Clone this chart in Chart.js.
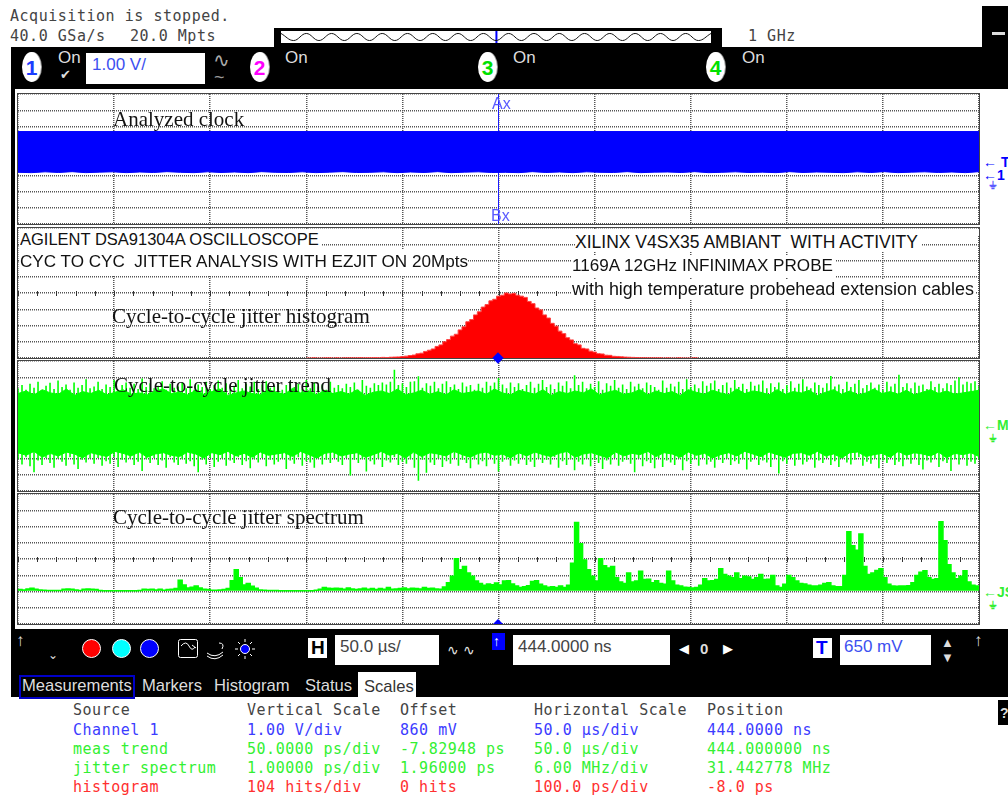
<!DOCTYPE html>
<html>
<head>
<meta charset="utf-8">
<title>DSA91304A jitter</title>
<script src="https://cdn.jsdelivr.net/npm/chart.js@4"></script>
<style>
  html, body { margin: 0; padding: 0; background: #fff; width: 1008px; height: 798px; overflow: hidden; }
  .abs { position: absolute; white-space: pre; }
  .blk { position: absolute; background: #000; }
  .box { position: absolute; background: #fff; }
  .mono { position: absolute; white-space: pre; font: 15px "DejaVu Sans Mono", monospace; letter-spacing: .53px; line-height: 18px; color: #444; }
  .ui { position: absolute; white-space: pre; font: 17px "Liberation Sans", sans-serif; line-height: 20px; color: #ddd; }
  .serif { position: absolute; white-space: pre; font: 21px "Liberation Serif", serif; line-height: 22px; color: #111; z-index: 5; }
  .note { position: absolute; white-space: pre; font: 17.5px "Liberation Sans", sans-serif; line-height: 20px; color: #111; background: #fff; z-index: 5; }
  .panel { position: absolute; left: 18px; width: 961px; height: 130px; box-shadow: 0 0 0 1px #444; }
  .panel canvas { position: absolute; left: 0; top: 0; }
  .chan { position: absolute; width: 19px; height: 30px; border-radius: 50%; background: #fff; box-shadow: 1px 0 0 #999; text-align: center; font: bold 21px/31px "Liberation Sans", sans-serif; }
  .dot { position: absolute; width: 17px; height: 17px; border-radius: 50%; border: 1px solid #fff; }
  .mark { position: absolute; white-space: pre; font: bold 14px "Liberation Sans", sans-serif; line-height: 14px; }
  .lbl { position: absolute; white-space: pre; font: 16px "Liberation Sans", sans-serif; color: #5a5aff; z-index: 6; }
</style>
</head>
<body>

<!-- top status -->
<div class="mono" style="left:10px;top:7px">Acquisition is stopped.</div>
<div class="mono" style="left:10px;top:27px">40.0 GSa/s</div>
<div class="mono" style="left:130px;top:27px">20.0 Mpts</div>
<div class="blk" style="left:274px;top:28px;width:448px;height:19px"></div>
<div class="box" style="left:281px;top:31px;width:430px;height:12px"><canvas id="delay-chart"></canvas></div>
<div class="mono" style="left:748px;top:27px">1 GHz</div>
<div class="blk" style="left:982px;top:6px;width:26px;height:41px"></div>
<div class="box" style="left:992px;top:32px;width:13px;height:3px;background:#ddd"></div>

<!-- channel bar -->
<div class="blk" style="left:11px;top:47px;width:997px;height:42px"></div>
<div class="blk" style="left:11px;top:89px;width:4px;height:540px"></div>
<div class="chan" style="left:22px;top:52px;color:#1a3cff">1</div>
<div class="chan" style="left:250px;top:52px;color:#ff00ff">2</div>
<div class="chan" style="left:478px;top:52px;color:#00e000">3</div>
<div class="chan" style="left:706px;top:52px;color:#00e000">4</div>
<div class="ui" style="left:58px;top:48px">On</div>
<div class="ui" style="left:285px;top:48px">On</div>
<div class="ui" style="left:513px;top:48px">On</div>
<div class="ui" style="left:742px;top:48px">On</div>
<div class="ui" style="left:60px;top:65px;font-size:13px">✔</div>
<div class="box" style="left:86px;top:53px;width:119px;height:31px"></div>
<div class="ui" style="left:92px;top:55px;color:#3c50f0">1.00 V/</div>
<div class="ui" style="left:213px;top:50px;font-size:20px;color:#aaa;font-weight:normal">∿</div>
<div class="ui" style="left:214px;top:67px;font-size:18px;color:#999">~</div>

<!-- scope panels -->
<div class="panel" style="top:94px"><canvas id="clock-chart"></canvas></div>
<div class="panel" style="top:228px"><canvas id="hist-chart"></canvas></div>
<div class="panel" style="top:361px"><canvas id="trend-chart"></canvas></div>
<div class="panel" style="top:494px"><canvas id="spectrum-chart"></canvas></div>

<div class="serif" style="left:113px;top:108px">Analyzed clock</div>
<div class="serif" style="left:112px;top:305px">Cycle-to-cycle jitter histogram</div>
<div class="serif" style="left:114px;top:374px">Cycle-to-cycle jitter trend</div>
<div class="serif" style="left:113px;top:506px">Cycle-to-cycle jitter spectrum</div>

<div class="note" style="left:20px;top:229px;width:302px;height:21px;font-size:16.5px">AGILENT DSA91304A OSCILLOSCOPE</div>
<div class="note" style="left:20px;top:250px;width:447px;height:25px;line-height:24px;font-size:17.1px">CYC TO CYC  JITTER ANALYSIS WITH EZJIT ON 20Mpts</div>
<div class="box" style="left:572px;top:229px;width:407px;height:7px;z-index:4"></div>
<div class="note" style="left:575px;top:232px;padding-right:3px">XILINX V4SX35 AMBIANT  WITH ACTIVITY</div>
<div class="note" style="left:572px;top:256px;width:264px;height:22px;font-size:17.1px">1169A 12GHz INFINIMAX PROBE</div>
<div class="note" style="left:572px;top:279px;width:404px;height:21px;font-size:17.95px">with high temperature probehead extension cables</div>

<div class="lbl" style="left:492px;top:95px">Ax</div>
<div class="lbl" style="left:491px;top:207px">Bx</div>

<!-- trace markers at the right edge -->
<div class="mark" style="left:983px;top:155px;color:#0000ff">← T</div>
<div class="mark" style="left:983px;top:168px;color:#0000ff">←1</div>
<div class="mark" style="left:989px;top:178px;color:#5a5aff;font-size:11px">⏚</div>
<div class="mark" style="left:983px;top:418px;color:#33ee33">←M</div>
<div class="mark" style="left:989px;top:431px;color:#33ee33;font-size:11px">⏚</div>
<div class="mark" style="left:983px;top:585px;color:#33ee33">←JS</div>
<div class="mark" style="left:989px;top:598px;color:#33ee33;font-size:11px">⏚</div>
<div class="box" style="left:494px;top:354px;width:8px;height:8px;background:#0000ff;transform:rotate(45deg);z-index:6"></div>
<div class="abs" style="left:493px;top:619px;width:0;height:0;border-left:5px solid transparent;border-right:5px solid transparent;border-bottom:5px solid #0000ff;z-index:6"></div>

<!-- bottom bar -->
<div class="blk" style="left:11px;top:629px;width:997px;height:68px"></div>
<div class="ui" style="left:16px;top:631px">↑</div>
<div class="ui" style="left:48px;top:645px;font-size:12px">⌄</div>
<div class="dot" style="left:82px;top:639px;background:#ff0000"></div>
<div class="dot" style="left:112px;top:639px;background:#00ffff"></div>
<div class="dot" style="left:140px;top:639px;background:#0000ff"></div>
<svg class="abs" style="left:177px;top:638px" width="84" height="22" viewBox="0 0 84 22" fill="none" stroke="#fff">
  <rect x="1.5" y="1.5" width="19" height="18" rx="2"/>
  <path d="M4 8 Q9 2 12 8 T18 9 M15 7 L19 10"/>
  <path d="M30 15 Q38 21 46 14 M30 18 Q38 24 46 17 M42 5 Q48 5 45 11"/>
  <circle cx="68" cy="11" r="4.5" fill="#0000ff"/>
  <path d="M68 1V4 M68 18V21 M58 11H61 M75 11H78 M61 4L63 6 M73 16L75 18 M61 18L63 16 M73 6L75 4"/>
</svg>
<div class="box" style="left:308px;top:638px;width:19px;height:20px"></div>
<div class="ui" style="left:311px;top:638px;color:#000;font-weight:bold;font-size:19px">H</div>
<div class="box" style="left:335px;top:635px;width:104px;height:30px"></div>
<div class="ui" style="left:340px;top:637px;color:#444">50.0 µs/</div>
<div class="ui" style="left:447px;top:640px;font-size:14px">∿ ∿</div>
<div class="box" style="left:492px;top:633px;width:13px;height:17px;background:#0000ff"></div>
<div class="ui" style="left:493px;top:631px;font-size:14px;color:#fff">↑</div>
<div class="box" style="left:513px;top:635px;width:157px;height:30px"></div>
<div class="ui" style="left:518px;top:637px;color:#444">444.0000 ns</div>
<div class="ui" style="left:679px;top:639px;font-size:13px;color:#fff">◀</div>
<div class="ui" style="left:700px;top:639px;font-weight:bold;font-size:15px">0</div>
<div class="ui" style="left:723px;top:639px;font-size:13px;color:#fff">▶</div>
<div class="box" style="left:813px;top:638px;width:19px;height:20px"></div>
<div class="ui" style="left:816px;top:638px;color:#0000ff;font-weight:bold;font-size:19px">T</div>
<div class="box" style="left:840px;top:635px;width:91px;height:30px"></div>
<div class="ui" style="left:844px;top:637px;color:#3c50f0">650 mV</div>
<div class="ui" style="left:941px;top:633px;font-size:13px">▲</div>
<div class="ui" style="left:941px;top:648px;font-size:13px">▼</div>
<div class="ui" style="left:974px;top:631px">↑</div>

<div class="box" style="left:19px;top:675px;width:112px;height:20px;background:#000;border:2px solid #0000c8"></div>
<div class="ui" style="left:22px;top:676px;font-size:16.6px">Measurements</div>
<div class="ui" style="left:142px;top:676px;font-size:16.6px">Markers</div>
<div class="ui" style="left:214px;top:676px;font-size:16.6px">Histogram</div>
<div class="ui" style="left:305px;top:676px;font-size:16.6px">Status</div>
<div class="box" style="left:358px;top:672px;width:58px;height:25px"></div>
<div class="ui" style="left:364px;top:677px;color:#333;font-size:16.6px">Scales</div>

<div class="blk" style="left:998px;top:700px;width:10px;height:25px"></div>
<div class="ui" style="left:1000px;top:703px;font-size:14px;font-weight:bold">?</div>

<div id="scale-table"></div>

<script>
  // 10 divisions across, 8 divisions high, as on the scope
  var H_DIVS = 10;
  var V_DIVS = 8;

  /* per-panel scope settings: center of the screen and size of one division */
  var CLOCK_TIME_CENTER = 0.444;   // us
  var CLOCK_TIME_DIV = 50;         // us/div
  var CLOCK_VOLT_CENTER = 0.86;    // V
  var CLOCK_VOLT_DIV = 1;          // V/div
  var HIST_PS_CENTER = -8;
  var HIST_PS_DIV = 100;
  var HIST_HITS_DIV = 104;
  var TREND_PS_CENTER = -7.82948;
  var TREND_PS_DIV = 50;
  var SPEC_MHZ_CENTER = 31.442778;
  var SPEC_MHZ_DIV = 6;
  var SPEC_PS_CENTER = 1.96;
  var SPEC_PS_DIV = 1;

  var clockTop = [2.55, 2.55];
  var clockLow = [
    0.04, 0.02, 0.07, 0.03, 0.08, 0.02, 0.05, 0.07, 0.02, 0.06, 0.03, 0.08, 0.04, 0.02, 0.07, 0.03, 0.06, 0.02,
    0.08, 0.04, 0.03, 0.07, 0.02, 0.05, 0.08, 0.03, 0.04, 0.07, 0.02, 0.06, 0.03, 0.08, 0.02, 0.05, 0.07, 0.03,
    0.04, 0.02, 0.08, 0.03, 0.06, 0.02, 0.07, 0.04, 0.03, 0.08, 0.02, 0.05, 0.06, 0.03, 0.08, 0.02, 0.04, 0.07,
    0.03, 0.05, 0.02, 0.08, 0.03, 0.06, 0.04, 0.02, 0.07, 0.03, 0.08, 0.02, 0.05, 0.07, 0.03, 0.06, 0.02, 0.08
  ];

  // hits per bin, bins every 4 ps starting at -208 ps
  var histStartPs = -208;
  var histStepPs = 4;
  var histHits = [
    0, 0, 1, 0, 0, 1, 1, 0, 1, 0, 1, 1, 1,
    1, 2, 1, 2, 2, 3, 2, 4, 3, 5, 6, 7, 9, 12,
    16, 19, 27, 31, 42, 50, 58, 74, 84, 104,
    118, 140, 152, 180, 200, 232, 246, 276, 296, 326,
    342, 366, 376, 396, 402, 416, 410, 414, 402, 396,
    388, 362, 348, 320, 308, 276, 256, 222, 204, 172,
    156, 130, 116, 92, 84, 62, 58, 44, 38, 28,
    26, 18, 17, 11, 10, 8, 6, 5, 4, 3, 2, 2, 1, 1, 1, 1,
    0, 1, 0, 0, 1, 0, 0, 0, 1, 0
  ];

  // trend body, samples every 8 px (ps)
  var trendCoreTop = [
    92,100,88,104,94,90,106,86,98,92,102,88,96,104,90,94,88,100,106,92,
    96,88,102,90,98,106,86,94,100,92,88,104,96,90,108,94,100,88,102,92,
    98,90,104,86,96,100,92,106,88,94,102,90,98,88,104,92,96,100,90,106,
    94,88,102,96,90,104,86,98,92,100,94,106,88,96,102,90,94,104,88,100,
    92,98,86,104,96,90,102,94,88,106,92,100,96,88,104,90,98,94,102,86,
    96,104,90,100,88,94,106,92,98,90,102,88,96,104,92,100,90,94,98,102
  ];
  var trendCoreLow = [
    -90,-98,-86,-104,-92,-100,-88,-94,-106,-90,-96,-102,-86,-92,-100,-88,-104,-94,-90,-98,
    -102,-88,-94,-106,-90,-96,-86,-100,-92,-104,-88,-98,-94,-90,-102,-86,-96,-106,-92,-88,
    -100,-94,-90,-104,-96,-86,-98,-92,-106,-88,-102,-90,-94,-100,-86,-96,-104,-92,-88,-98,
    -94,-106,-90,-100,-88,-96,-102,-92,-86,-104,-94,-90,-98,-106,-88,-100,-92,-96,-86,-102,
    -90,-94,-104,-88,-98,-92,-106,-96,-90,-100,-86,-94,-102,-88,-96,-104,-92,-90,-98,-86,
    -100,-94,-106,-90,-88,-102,-96,-92,-104,-86,-98,-90,-94,-100,-88,-106,-92,-96,-90,-102
  ];

  // fine spikes outside the body, samples every 4 px (ps)
  var trendTop = [
    108,118,104,122,110,128,102,116,125,106,132,112,120,104,126,110,118,136,108,114,
    128,106,120,112,134,104,118,126,110,122,106,138,112,124,108,116,130,104,122,110,
    114,126,108,136,104,120,112,128,106,118,132,110,124,104,116,134,108,122,114,128,
    106,120,130,110,116,124,104,118,128,112,122,106,134,108,126,114,120,104,128,110,
    118,108,122,112,126,104,134,116,110,124,118,126,120,128,165,118,124,112,128,130,
    145,110,124,116,128,108,122,130,112,120,106,126,114,118,104,122,110,128,116,126,
    140,120,108,126,112,124,106,118,128,110,122,134,112,120,106,126,116,130,108,148,
    118,128,108,122,112,130,104,124,116,134,110,120,106,128,114,122,108,126,118,112,
    104,132,110,122,114,128,106,136,112,120,108,130,116,124,132,106,118,126,110,134,
    112,122,106,128,116,120,132,108,124,112,126,106,118,130,110,122,136,114,108,126,
    118,110,124,146,114,120,106,128,112,122,134,108,118,126,110,120,104,128,114,122,
    150,112,124,108,126,116,120,106,130,112,122,108,124,118,132,142,120,128,124,130,116
  ];
  var trendLow = [
    -110,-126,-104,-132,-150,-114,-128,-106,-122,-136,-108,-118,-130,-104,-126,-140,-112,-120,-108,-124,
    -106,-130,-116,-124,-104,-134,-112,-120,-108,-128,-118,-146,-110,-122,-106,-128,-114,-136,-104,-120,
    -128,-110,-124,-116,-132,-150,-112,-126,-106,-134,-118,-108,-130,-114,-122,-104,-128,-116,-138,-110,
    -120,-106,-132,-112,-126,-118,-108,-140,-114,-124,-104,-130,-116,-120,-136,-108,-126,-112,-122,-106,
    -118,-128,-106,-160,-112,-122,-110,-148,-116,-126,-108,-134,-114,-120,-104,-128,-118,-124,-110,-136,
    -176,-112,-152,-120,-128,-108,-134,-116,-124,-106,-130,-112,-122,-138,-110,-126,-116,-132,-106,-124,
    -148,-118,-110,-130,-114,-124,-106,-128,-118,-134,-108,-122,-112,-126,-104,-136,-116,-128,-110,-144,
    -118,-126,-108,-132,-112,-122,-140,-114,-126,-106,-130,-118,-112,-124,-150,-108,-132,-116,-122,-138,
    -106,-134,-114,-120,-128,-108,-144,-116,-124,-110,-130,-106,-126,-118,-136,-112,-122,-108,-128,-116,
    -124,-110,-142,-118,-106,-128,-114,-120,-134,-108,-154,-116,-124,-106,-130,-112,-126,-118,-108,-136,
    -114,-122,-106,-128,-116,-134,-108,-120,-126,-112,-104,-130,-118,-124,-108,-138,-114,-122,-106,-128,
    -118,-132,-110,-124,-106,-128,-142,-114,-120,-108,-134,-116,-122,-146,-110,-126,-106,-130,-118,-124,-112
  ];

  // jitter spectrum amplitude, samples every 4 px (ps)
  var spectrumPs = [
    .06,.08,.06,.12,.16,.1,.06,.03,.02,.02,.02,.02,.1,.12,.1,.06,.02,.1,.12,.1,
    .08,.02,0,0,0,0,0,0,0,0,0,.02,.1,.08,.1,.06,.1,.04,.08,.1,
    .14,.66,.36,.18,.22,.3,.18,.1,.08,.04,.04,.06,.08,.14,.62,1.3,.8,.36,.46,.28,
    .16,.06,.03,.02,.02,.02,0,0,0,0,0,0,0,0,0,.04,.1,.2,.16,.14,
    .16,.14,.1,.18,.12,.08,.12,.16,.1,.14,.08,.14,.1,.2,.1,.12,.14,.18,.12,.16,
    .14,.12,.2,.14,.16,.12,.1,.24,.5,.9,1.98,1.3,1.5,1.1,.9,.6,.45,.35,.42,.38,
    .48,.36,.6,.62,.42,.3,.2,.26,.32,.58,.62,.4,.3,.22,.25,.2,.3,.2,.34,1.7,
    4.2,2.9,1.9,1.3,.9,.6,1.98,1.55,1.4,1.5,.8,.55,.45,1.1,.55,.6,1.2,.7,.72,.5,
    .62,.45,.4,1.2,.6,.35,.3,.22,.2,.18,.2,.35,.75,.6,.62,.7,1.36,1.0,.9,.8,
    1.1,.75,.9,.85,.7,.8,1.0,.7,.72,.95,.3,.2,.4,.95,.8,.6,.45,.42,.35,.3,
    .3,.35,.45,.5,.3,.25,.25,.95,3.64,2.78,2.5,3.5,1.5,1.0,1.1,1.25,1.36,.8,.4,.3,
    .28,.3,.3,.32,.5,.95,1.15,1.23,.8,.7,.75,4.26,3.09,1.6,1.1,.75,.9,1.23,.55,.35,.3
  ];

  // the little record-length wave in the status strip
  var delayWave = [
    1,-1,1,-1,1,-1,1,-1,1,-1,1,-1,1,-1,1,-1,1,-1,
    1,-1,1,-1,1,-1,1,-1,1,-1,1,-1,1,-1,1,-1,1
  ];

  var tableColsX = [73, 247, 400, 534, 707];
  var tableRowsY = [701, 721, 740, 759, 778];
  var tableHeader = ['Source', 'Vertical Scale', 'Offset', 'Horizontal Scale', 'Position'];
  var tableRows = [
    ['Channel 1', '1.00 V/div', '860 mV', '50.0 µs/div', '444.0000 ns'],
    ['meas trend', '50.0000 ps/div', '-7.82948 ps', '50.0 µs/div', '444.000000 ns'],
    ['jitter spectrum', '1.00000 ps/div', '1.96000 ps', '6.00 MHz/div', '31.442778 MHz'],
    ['histogram', '104 hits/div', '0 hits', '100.0 ps/div', '-8.0 ps']
  ];
  var tableColors = ['#3c3cff', '#33f033', '#33f033', '#ff3030'];

  var GRID_COLOR = '#555';
  var PANEL_W = 961;
  var PANEL_H = 130;

  function divTicks(center, perDiv, divs) {
    var out = [];
    for (var i = 0; i <= divs; i++) {
      out.push({ value: center + (i - divs / 2) * perDiv });
    }
    return out;
  }

  // map samples taken at a fixed pitch onto the x axis
  function toPoints(ys, xMin, xMax) {
    return ys.map(function (y, i) {
      return { x: xMin + (xMax - xMin) * i / (ys.length - 1), y: y };
    });
  }

  // vertical strokes low..high per sample, broken apart with gaps
  function toSpikes(tops, lows, xMin, xMax) {
    var out = [];
    tops.forEach(function (top, i) {
      var x = xMin + (xMax - xMin) * i / (tops.length - 1);
      out.push({ x: x, y: top }, { x: x, y: lows[i] }, { x: x, y: null });
    });
    return out;
  }

  // small marks on the center graticule line, 5 per division
  var centerTicks = {
    id: 'centerTicks',
    beforeDatasetsDraw: function (chart) {
      var xs = chart.scales.x, ys = chart.scales.y;
      var yc = Math.round(ys.getPixelForValue((ys.min + ys.max) / 2));
      var perDiv = (xs.max - xs.min) / H_DIVS;
      var c = chart.ctx;
      c.save();
      c.strokeStyle = '#333';
      c.beginPath();
      for (var i = 0; i <= H_DIVS * 5; i++) {
        var px = Math.round(xs.getPixelForValue(xs.min + i * perDiv / 5)) + 0.5;
        c.moveTo(px, yc - 2);
        c.lineTo(px, yc + 3);
      }
      c.stroke();
      c.restore();
    }
  };

  function scopeChart(id, xMin, xMax, yMin, yMax, datasets) {
    var canvas = document.getElementById(id);
    canvas.width = PANEL_W;
    canvas.height = PANEL_H;
    var xCenter = (xMin + xMax) / 2, yCenter = (yMin + yMax) / 2;
    return new Chart(canvas, {
      type: 'line',
      data: { datasets: datasets },
      plugins: [centerTicks],
      options: {
        responsive: false,
        animation: false,
        layout: { padding: 0 },
        elements: { point: { radius: 0 }, line: { tension: 0 } },
        plugins: { legend: { display: false }, tooltip: { enabled: false } },
        scales: {
          x: {
            type: 'linear', min: xMin, max: xMax,
            afterBuildTicks: function (s) { s.ticks = divTicks(xCenter, (xMax - xMin) / H_DIVS, H_DIVS); },
            ticks: { display: false },
            grid: { color: GRID_COLOR, lineWidth: 1.5, drawTicks: false },
            border: { display: false, dash: [1, 1] }
          },
          y: {
            type: 'linear', min: yMin, max: yMax,
            afterBuildTicks: function (s) { s.ticks = divTicks(yCenter, (yMax - yMin) / V_DIVS, V_DIVS); },
            ticks: { display: false },
            grid: { color: GRID_COLOR, lineWidth: 1.5, drawTicks: false },
            border: { display: false, dash: [1, 1] }
          }
        }
      }
    });
  }

  /* clock: filled band plus the Ax/Bx cursor */
  var tMin = CLOCK_TIME_CENTER - CLOCK_TIME_DIV * H_DIVS / 2;
  var tMax = CLOCK_TIME_CENTER + CLOCK_TIME_DIV * H_DIVS / 2;
  var vMin = CLOCK_VOLT_CENTER - CLOCK_VOLT_DIV * V_DIVS / 2;
  var vMax = CLOCK_VOLT_CENTER + CLOCK_VOLT_DIV * V_DIVS / 2;
  scopeChart('clock-chart', tMin, tMax, vMin, vMax, [
    { data: toPoints(clockTop, tMin, tMax), borderColor: '#0000ff', borderWidth: 1, fill: false },
    { data: toPoints(clockLow, tMin, tMax), borderColor: '#0000ff', borderWidth: 1, backgroundColor: '#0000ff', fill: '-1' },
    { data: [{ x: CLOCK_TIME_CENTER, y: vMin }, { x: CLOCK_TIME_CENTER, y: vMax }], borderColor: '#1a1aff', borderWidth: 1 }
  ]);

  /* histogram sits on the bottom of its panel */
  var hMin = HIST_PS_CENTER - HIST_PS_DIV * H_DIVS / 2;
  var hMax = HIST_PS_CENTER + HIST_PS_DIV * H_DIVS / 2;
  var histPoints = histHits.map(function (v, i) { return { x: histStartPs + i * histStepPs, y: v }; });
  scopeChart('hist-chart', hMin, hMax, 0, HIST_HITS_DIV * V_DIVS, [
    { data: histPoints, stepped: 'middle', borderColor: '#ff4040', borderWidth: 1, backgroundColor: '#ff0000', fill: 'origin' }
  ]);

  /* trend: solid body plus thin spikes */
  var trMin = tMin, trMax = tMax;
  var tyMin = TREND_PS_CENTER - TREND_PS_DIV * V_DIVS / 2;
  var tyMax = TREND_PS_CENTER + TREND_PS_DIV * V_DIVS / 2;
  scopeChart('trend-chart', trMin, trMax, tyMin, tyMax, [
    { data: toPoints(trendCoreTop, trMin, trMax), borderColor: '#00ff00', borderWidth: 1, fill: false },
    { data: toPoints(trendCoreLow, trMin, trMax), borderColor: '#00ff00', borderWidth: 1, backgroundColor: '#00ff00', fill: '-1' },
    { data: toSpikes(trendTop, trendLow, trMin, trMax), borderColor: '#00ff00', borderWidth: 1.6, spanGaps: false }
  ]);

  /* spectrum */
  var fMin = SPEC_MHZ_CENTER - SPEC_MHZ_DIV * H_DIVS / 2;
  var fMax = SPEC_MHZ_CENTER + SPEC_MHZ_DIV * H_DIVS / 2;
  var syMin = SPEC_PS_CENTER - SPEC_PS_DIV * V_DIVS / 2;
  var syMax = SPEC_PS_CENTER + SPEC_PS_DIV * V_DIVS / 2;
  scopeChart('spectrum-chart', fMin, fMax, syMin, syMax, [
    { data: toPoints(spectrumPs, fMin, fMax), stepped: 'after', borderColor: '#00ff00', borderWidth: 1.5, backgroundColor: '#00ff00', fill: { value: 0 } }
  ]);

  /* delay window wave */
  var delayCanvas = document.getElementById('delay-chart');
  delayCanvas.width = 430;
  delayCanvas.height = 12;
  new Chart(delayCanvas, {
    type: 'line',
    data: {
      datasets: [
        { data: toPoints(delayWave, 0, 100), borderColor: '#111', borderWidth: 1, tension: 0.4 },
        { data: [{ x: 50.1, y: -2 }, { x: 50.1, y: 2 }], borderColor: '#0000ff', borderWidth: 2 }
      ]
    },
    options: {
      responsive: false, animation: false,
      elements: { point: { radius: 0 } },
      plugins: { legend: { display: false }, tooltip: { enabled: false } },
      scales: {
        x: { type: 'linear', display: false, min: 0, max: 100 },
        y: { type: 'linear', display: false, min: -1.7, max: 1.7 }
      }
    }
  });

  /* scales table under the tabs */
  var table = document.getElementById('scale-table');
  function addCell(text, x, y, color) {
    var el = document.createElement('div');
    el.className = 'mono';
    el.style.left = x + 'px';
    el.style.top = y + 'px';
    if (color) el.style.color = color;
    el.textContent = text;
    table.appendChild(el);
  }
  tableHeader.forEach(function (t, c) { addCell(t, tableColsX[c], tableRowsY[0]); });
  tableRows.forEach(function (row, r) {
    row.forEach(function (t, c) { addCell(t, tableColsX[c], tableRowsY[r + 1], tableColors[r]); });
  });
</script>
</body>
</html>
